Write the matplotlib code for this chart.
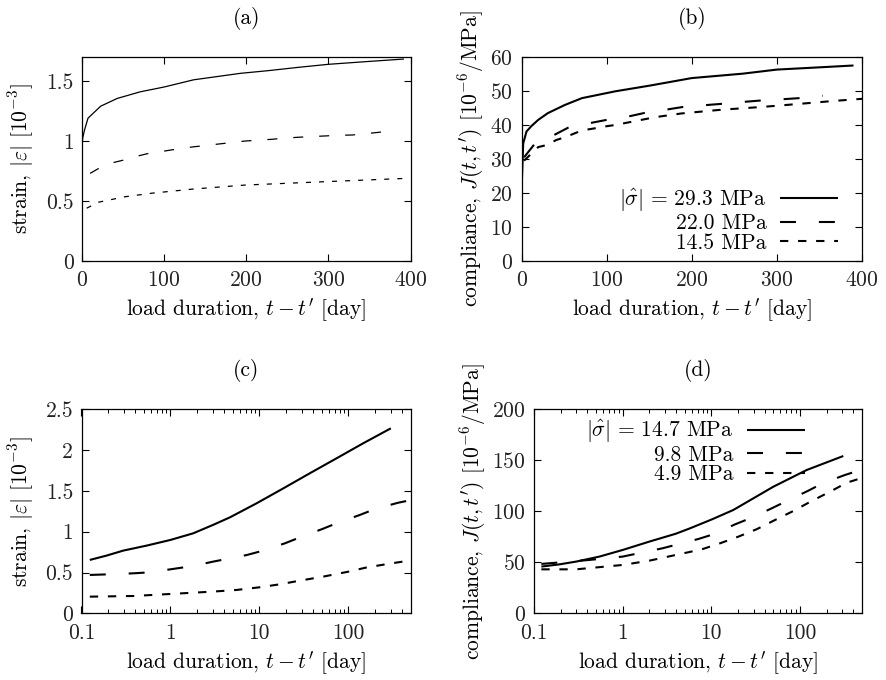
import matplotlib
matplotlib.use("Agg")
import matplotlib.pyplot as plt
from matplotlib.ticker import LogLocator, NullFormatter

plt.rcParams.update({
    "font.family": "serif",
    "font.serif": ["cmr10"],
    "mathtext.fontset": "cm",
    "axes.formatter.use_mathtext": True,
    "font.size": 15.5,
    "axes.linewidth": 0.9,
    "xtick.direction": "in",
    "ytick.direction": "in",
    "xtick.top": True,
    "ytick.right": True,
    "xtick.major.size": 5,
    "ytick.major.size": 5,
    "xtick.minor.size": 2.8,
    "ytick.minor.size": 2.8,
    "xtick.major.width": 0.8,
    "ytick.major.width": 0.8,
    "xtick.minor.width": 0.7,
    "xtick.major.pad": 7,
    "ytick.major.pad": 6,
    "lines.scale_dashes": False,
    "lines.solid_capstyle": "butt",
    "lines.dash_capstyle": "butt",
})

# ---- (a) strain vs load duration, linear time ----
a_solid_t = [0.2, 1, 3, 7.3, 22.7, 43, 71, 100, 136, 193, 225, 265, 300, 347, 392]
a_solid_v = [0.98, 1.03, 1.09, 1.19, 1.29, 1.355, 1.41, 1.45, 1.51, 1.564, 1.585,
             1.615, 1.639, 1.662, 1.683]
a_long_t = [9.8, 20, 38, 50, 71, 83, 101, 113, 134, 199, 231, 243, 263, 276, 296,
            309, 329, 341, 361, 374]
a_long_v = [0.73, 0.77, 0.82, 0.84, 0.88, 0.90, 0.917, 0.93, 0.95, 1.0, 1.014, 1.022,
            1.031, 1.036, 1.042, 1.047, 1.05, 1.058, 1.072, 1.083]
a_short_t = [5.7, 20, 52, 85, 121.5, 136, 199, 296, 396]
a_short_v = [0.44, 0.49, 0.535, 0.565, 0.59, 0.60, 0.633, 0.661, 0.689]
a_yticks = [0, 0.5, 1, 1.5]
a_yticklabels = ["0", "0.5", "1", "1.5"]

# ---- (b) compliance vs load duration, linear time ----
b_solid_t = [0.5, 2, 5.9, 11.7, 19.6, 31, 51, 71, 110, 151, 200, 260, 300, 338, 390]
b_solid_v = [23.8, 34.6, 38.1, 39.7, 41.5, 43.5, 45.9, 47.9, 49.9, 51.6, 53.8, 55.1,
             56.3, 56.8, 57.5]
b_long_t = [3, 16, 31, 57, 75, 104, 122, 149, 157, 197, 214, 244, 261, 291, 308, 338, 354]
b_long_v = [30.5, 34.6, 36.1, 39.5, 40.3, 41.7, 42.3, 43.8, 44.0, 45.6, 45.8, 46.4,
            46.8, 47.4, 47.6, 48.1, 48.6]
b_short_t = [3, 19.6, 29.4, 41, 51, 65, 71, 88, 96, 110, 157, 188, 235, 282, 321, 368, 400]
b_short_v = [29.5, 33.5, 34.1, 35.6, 36.4, 37.8, 38.4, 39.1, 39.5, 40.0, 42.3, 43.4,
             44.5, 45.3, 46.1, 47.1, 47.7]
b_labels = [r"$|\hat{\sigma}|\,=\,29.3$ MPa", "22.0 MPa", "14.5 MPa"]
b_yticks = [0, 10, 20, 30, 40, 50, 60]

lin_xticks = [0, 100, 200, 300, 400]

# ---- (c) strain vs load duration, log time ----
c_solid_t = [0.124, 0.191, 0.294, 0.537, 1, 1.80, 3.01, 4.67, 9.3, 18.5, 36.9, 73.6,
             146.6, 300.6]
c_solid_v = [0.654, 0.707, 0.768, 0.829, 0.899, 0.980, 1.083, 1.176, 1.348, 1.53,
             1.716, 1.899, 2.083, 2.267]
c_long_t = [0.124, 0.208, 0.381, 0.586, 1, 1.80, 3.01, 7.2, 10.6, 19.4, 28.0, 51,
            73.6, 134.6, 193.8, 363, 451]
c_long_v = [0.470, 0.478, 0.490, 0.502, 0.539, 0.580, 0.633, 0.714, 0.763, 0.858,
            0.927, 1.033, 1.103, 1.205, 1.273, 1.355, 1.376]
c_short_t = [0.124, 0.381, 1, 3.01, 5.52, 10.1, 16.9, 28.4, 51.9, 101, 174, 210, 340, 449]
c_short_v = [0.204, 0.212, 0.237, 0.266, 0.286, 0.319, 0.355, 0.40, 0.449, 0.511,
             0.571, 0.583, 0.62, 0.64]
c_yticks = [0, 0.5, 1, 1.5, 2, 2.5]
c_yticklabels = ["0", "0.5", "1", "1.5", "2", "2.5"]

# ---- (d) compliance vs load duration, log time ----
d_solid_t = [0.121, 0.194, 0.299, 0.547, 1, 2.0, 3.97, 5.74, 10.1, 17.7, 50, 119, 307.6]
d_solid_v = [45.8, 48.0, 50.7, 55.6, 62.1, 70.3, 78.0, 83.3, 92.0, 101.3, 124.1,
             140.5, 154.2]
d_long_t = [0.121, 0.42, 1, 2.8, 7.1, 10.5, 18.5, 27.3, 47.9, 70.8, 124, 180, 321, 454]
d_long_v = [48.4, 52.3, 55.6, 63.7, 72.8, 77.4, 87.2, 93.1, 102.9, 110.1, 120.2,
            127.5, 135.6, 139.8]
d_short_t = [0.121, 0.299, 1, 2.0, 3.97, 7.8, 12.5, 20.1, 32.4, 52.3, 84, 135.5,
             217.8, 336, 450]
d_short_v = [43.1, 43.1, 47.4, 51.6, 57.2, 62.7, 68.6, 75.1, 82.4, 91.5, 100.3,
             110.1, 119.2, 128.0, 131.5]
d_labels = [r"$|\hat{\sigma}|\,=\,14.7$ MPa", "9.8 MPa", "4.9 MPa"]
d_yticks = [0, 50, 100, 150, 200]

log_xticks = [0.1, 1, 10, 100]
log_xticklabels = ["0.1", "1", "10", "100"]

xlabel = r"load duration, $t - t'$ [day]"
strain_label = r"strain, $|\varepsilon|$ [$10^{-3}$]"
compl_label = r"compliance, $J(t,t')$ [$10^{-6}$/MPa]"

fig = plt.figure(figsize=(8.86, 6.8), dpi=100)
W, H = 886.0, 680.0


def add_axes(x0, x1, y0, y1):
    return fig.add_axes([x0 / W, 1 - y1 / H, (x1 - x0) / W, (y1 - y0) / H])


ax_a = add_axes(82, 410.5, 57, 261)
ax_b = add_axes(521.5, 862, 57, 261)
ax_c = add_axes(81.5, 410.5, 409.3, 613.3)
ax_d = add_axes(534, 862, 409.3, 613.3)

LONG_THIN = (0, (7.2, 11.5))
SHORT_THIN = (0, (3.6, 5.8))
LONG = (0, (11.5, 16.5))
SHORT = (0, (6.0, 7.0))

# (a)
lw_a = 0.9
ax_a.plot(a_solid_t, a_solid_v, color="black", lw=lw_a)
ax_a.plot(a_long_t, a_long_v, color="black", lw=lw_a, linestyle=LONG_THIN)
ax_a.plot(a_short_t, a_short_v, color="black", lw=lw_a, linestyle=SHORT_THIN)
ax_a.set_xlim(0, 400)
ax_a.set_ylim(0, 1.7)
ax_a.set_xticks(lin_xticks)
ax_a.set_yticks(a_yticks, labels=a_yticklabels)
ax_a.set_ylabel(strain_label, labelpad=7)

# (b)
lw = 1.5
ax_b.plot(b_solid_t, b_solid_v, color="black", lw=lw, label=b_labels[0])
ax_b.plot(b_long_t, b_long_v, color="black", lw=lw, linestyle=LONG, label=b_labels[1])
ax_b.plot(b_short_t, b_short_v, color="black", lw=lw, linestyle=SHORT, label=b_labels[2])
ax_b.set_xlim(0, 400)
ax_b.set_ylim(0, 60)
ax_b.set_xticks(lin_xticks)
ax_b.set_yticks(b_yticks)
ax_b.set_ylabel(compl_label, labelpad=3)
ax_b.legend(loc="lower right", bbox_to_anchor=(1 - 24 / 340.5, 8 / 204),
            frameon=False, markerfirst=False, handlelength=2.7,
            handletextpad=0.62, labelspacing=0.0, borderpad=0, borderaxespad=0)

# (c)
ax_c.plot(c_solid_t, c_solid_v, color="black", lw=lw)
ax_c.plot(c_long_t, c_long_v, color="black", lw=lw, linestyle=LONG)
ax_c.plot(c_short_t, c_short_v, color="black", lw=lw, linestyle=SHORT)
ax_c.set_xscale("log")
ax_c.set_xlim(0.1, 500)
ax_c.set_ylim(0, 2.5)
ax_c.set_yticks(c_yticks, labels=c_yticklabels)
ax_c.set_ylabel(strain_label, labelpad=7)

# (d)
ax_d.plot(d_solid_t, d_solid_v, color="black", lw=lw, label=d_labels[0])
ax_d.plot(d_long_t, d_long_v, color="black", lw=lw, linestyle=LONG, label=d_labels[1])
ax_d.plot(d_short_t, d_short_v, color="black", lw=lw, linestyle=SHORT, label=d_labels[2])
ax_d.set_xscale("log")
ax_d.set_xlim(0.1, 500)
ax_d.set_ylim(0, 200)
ax_d.set_yticks(d_yticks)
ax_d.set_ylabel(compl_label, labelpad=3)
ax_d.legend(loc="upper right", bbox_to_anchor=(1 - 57 / 328, 1 - 9 / 204),
            frameon=False, markerfirst=False, handlelength=2.7,
            handletextpad=0.62, labelspacing=0.0, borderpad=0, borderaxespad=0)

for ax in (ax_c, ax_d):
    ax.set_xticks(log_xticks, labels=log_xticklabels)
    ax.xaxis.set_minor_locator(LogLocator(base=10, subs=range(2, 10), numticks=20))
    ax.xaxis.set_minor_formatter(NullFormatter())

for ax, tag in zip((ax_a, ax_b, ax_c, ax_d), ("(a)", "(b)", "(c)", "(d)")):
    ax.set_xlabel(xlabel, labelpad=5)
    ax.set_title(tag, pad=24, fontsize=15.5)
    ax.tick_params(which="both", colors="black", labelcolor="#222222")

fig.savefig("out.png", dpi=100)
